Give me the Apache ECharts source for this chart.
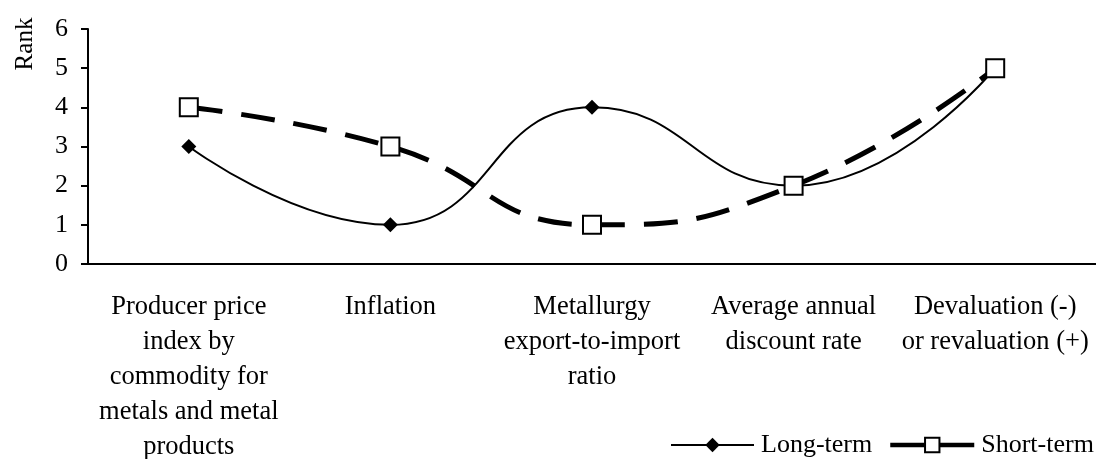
<!DOCTYPE html>
<html>
<head>
<meta charset="utf-8">
<script src="https://cdn.jsdelivr.net/npm/echarts@6/dist/echarts.min.js"></script>
<style>
  html, body { margin: 0; padding: 0; background: #fff; }
  #chart { width: 1096px; height: 459px; }
</style>
</head>
<body>
<div id="chart"></div>
<script>
// categories and ranks
var categories = [
  'Producer price\nindex by\ncommodity for\nmetals and metal\nproducts',
  'Inflation',
  'Metallurgy\nexport-to-import\nratio',
  'Average annual\ndiscount rate',
  'Devaluation (-)\nor revaluation (+)'
];
var longTerm = [3, 1, 4, 2, 5];
var shortTerm = [4, 3, 1, 2, 5];
var rankTicks = [0, 1, 2, 3, 4, 5, 6];

var serif = 'Liberation Serif';
var chart = echarts.init(document.getElementById('chart'));

chart.setOption({
  animation: false,
  textStyle: { fontFamily: serif, color: '#000' },
  // keep the plot box fixed, labels may run to the page edge
  grid: { left: 88, right: 0, top: 29, bottom: 195, outerBoundsMode: 'none', containLabel: false },
  graphic: [{
    type: 'text',
    x: 25,
    y: 44,
    rotation: Math.PI / 2,
    style: {
      text: 'Rank',
      font: '25px "Liberation Serif"',
      fill: '#000',
      textAlign: 'center',
      textVerticalAlign: 'middle'
    }
  }],
  legend: [{
    data: ['Long-term'],
    left: 670,
    top: 432,
    padding: 0,
    itemWidth: 83,
    itemHeight: 18,
    itemGap: 0,
    lineStyle: { width: 2, type: 'solid' },
    textStyle: { fontFamily: serif, fontSize: 26, color: '#000', padding: [0, 0, 0, 2] }
  }, {
    data: ['Short-term'],
    left: 888,
    top: 432,
    padding: 0,
    itemWidth: 84,
    itemHeight: 18,
    itemGap: 0,
    lineStyle: { width: 4.5, type: 'solid' },
    textStyle: { fontFamily: serif, fontSize: 26, color: '#000', padding: [0, 0, 0, 2] }
  }],
  xAxis: {
    type: 'category',
    data: categories,
    boundaryGap: true,
    axisLine: { lineStyle: { color: '#000', width: 2 } },
    axisTick: { length: 7, lineStyle: { color: '#000', width: 2 } },
    axisLabel: {
      interval: 0,
      margin: 26,
      fontFamily: serif,
      fontSize: 26.5,
      lineHeight: 35,
      color: '#000'
    }
  },
  yAxis: {
    type: 'value',
    min: 0,
    max: 6,
    interval: 1,
    splitLine: { show: false },
    axisLine: { show: true, lineStyle: { color: '#000', width: 2 } },
    axisTick: { show: true, length: 7, lineStyle: { color: '#000', width: 2 } },
    axisLabel: {
      margin: 20,
      fontFamily: serif,
      fontSize: 26,
      color: '#000',
      formatter: function (v) { return rankTicks.indexOf(v) >= 0 ? String(v) : ''; }
    }
  },
  series: [{
    name: 'Long-term',
    type: 'line',
    data: longTerm,
    smooth: 0.5,
    symbol: 'diamond',
    symbolSize: 15,
    itemStyle: { color: '#000' },
    lineStyle: { color: '#000', width: 2 },
    z: 2
  }, {
    name: 'Short-term',
    type: 'line',
    data: shortTerm,
    smooth: 0.5,
    symbol: 'rect',
    symbolSize: 18,
    itemStyle: { color: '#fff', borderColor: '#000', borderWidth: 2 },
    lineStyle: { color: '#000', width: 5, type: [34, 19] },
    z: 3
  }]
});
</script>
</body>
</html>
